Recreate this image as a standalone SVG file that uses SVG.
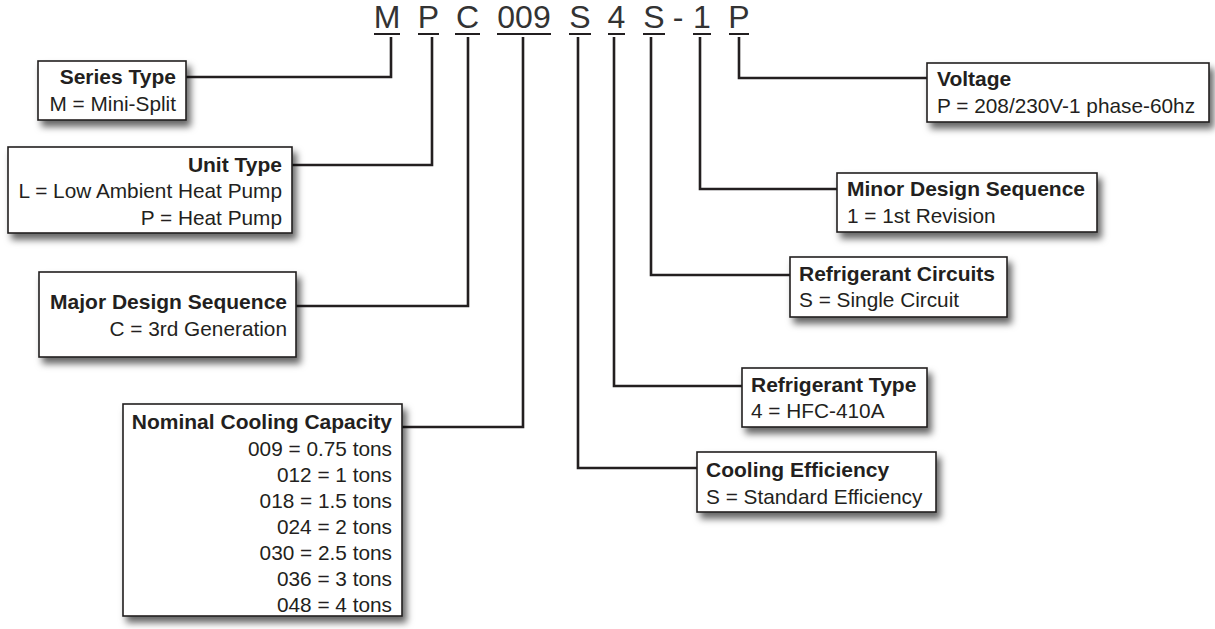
<svg xmlns="http://www.w3.org/2000/svg" width="1215" height="629" viewBox="0 0 1215 629">
<defs>
<filter id="sh" x="-10%" y="-20%" width="130%" height="160%">
<feDropShadow dx="4" dy="6" stdDeviation="3.5" flood-color="#000" flood-opacity="0.6"/>
</filter>
<style>
.box{fill:#fff;stroke:#231f20;stroke-width:1.6;filter:url(#sh)}
.t{font-family:"Liberation Sans",Arial,sans-serif;fill:#231f20;font-size:20.8px}
.b{font-weight:bold;font-size:21px}
.r{text-anchor:end}
.code{font-family:"Liberation Sans",Arial,sans-serif;fill:#333;font-size:32px;text-anchor:middle}
.ul{stroke:#231f20;stroke-width:1.8;fill:none}
.con{stroke:#231f20;stroke-width:2.6;fill:none;stroke-linejoin:miter}
</style>
</defs>
<rect width="1215" height="629" fill="#fff"/>
<g id="code">
<text class="code" x="387" y="28">M</text>
<text class="code" x="428.5" y="28">P</text>
<text class="code" x="467.5" y="28">C</text>
<text class="code" x="524" y="28">009</text>
<text class="code" x="580" y="28">S</text>
<text class="code" x="616.5" y="28">4</text>
<text class="code" x="654" y="28">S</text>
<text class="code" x="678" y="28">-</text>
<text class="code" x="702" y="28">1</text>
<text class="code" x="739" y="28">P</text>
<path class="ul" d="M374 34H400M418 34H439M455 34H480M497 34H551M569 34H591M608 34H625M643 34H665M693 34H711M729 34H749"/>
</g>
<g id="connectors">
<path class="con" d="M391 37V77H186"/>
<path class="con" d="M432 37V165H292"/>
<path class="con" d="M468 37V306H296"/>
<path class="con" d="M523 37V427H402"/>
<path class="con" d="M578 37V468H697"/>
<path class="con" d="M614 37V386H742"/>
<path class="con" d="M651 37V275H790"/>
<path class="con" d="M700 37V189H837"/>
<path class="con" d="M739 37V78H927"/>
</g>
<g id="series-type">
<rect class="box" x="38" y="61" width="148" height="59"/>
<text class="t b r" x="176" y="84">Series Type</text>
<text class="t r" x="176" y="111">M = Mini-Split</text>
</g>
<g id="unit-type">
<rect class="box" x="8" y="147" width="284" height="86"/>
<text class="t b r" x="282" y="172">Unit Type</text>
<text class="t r" x="282" y="198">L = Low Ambient Heat Pump</text>
<text class="t r" x="282" y="225">P = Heat Pump</text>
</g>
<g id="major-design">
<rect class="box" x="39" y="272" width="257" height="85"/>
<text class="t b r" x="287" y="309">Major Design Sequence</text>
<text class="t r" x="287" y="336">C = 3rd Generation</text>
</g>
<g id="nominal-cooling">
<rect class="box" x="123" y="404" width="279" height="212"/>
<text class="t b r" x="392" y="429">Nominal Cooling Capacity</text>
<text class="t r" x="392" y="455.5">009 = 0.75 tons</text>
<text class="t r" x="392" y="481.5">012 = 1 tons</text>
<text class="t r" x="392" y="508">018 = 1.5 tons</text>
<text class="t r" x="392" y="534">024 = 2 tons</text>
<text class="t r" x="392" y="560">030 = 2.5 tons</text>
<text class="t r" x="392" y="586">036 = 3 tons</text>
<text class="t r" x="392" y="612">048 = 4 tons</text>
</g>
<g id="voltage">
<rect class="box" x="927" y="63" width="282" height="59"/>
<text class="t b" x="937" y="86">Voltage</text>
<text class="t" x="937" y="113">P = 208/230V-1 phase-60hz</text>
</g>
<g id="minor-design">
<rect class="box" x="837" y="173" width="260" height="59"/>
<text class="t b" x="847" y="196">Minor Design Sequence</text>
<text class="t" x="847" y="223">1 = 1st Revision</text>
</g>
<g id="refrigerant-circuits">
<rect class="box" x="790" y="257" width="217" height="60"/>
<text class="t b" x="799" y="281">Refrigerant Circuits</text>
<text class="t" x="799" y="307">S = Single Circuit</text>
</g>
<g id="refrigerant-type">
<rect class="box" x="742" y="368" width="185" height="59"/>
<text class="t b" x="751" y="392">Refrigerant Type</text>
<text class="t" x="751" y="418">4 = HFC-410A</text>
</g>
<g id="cooling-efficiency">
<rect class="box" x="697" y="452" width="239" height="60"/>
<text class="t b" x="706" y="477">Cooling Efficiency</text>
<text class="t" x="706" y="504">S = Standard Efficiency</text>
</g>
</svg>
